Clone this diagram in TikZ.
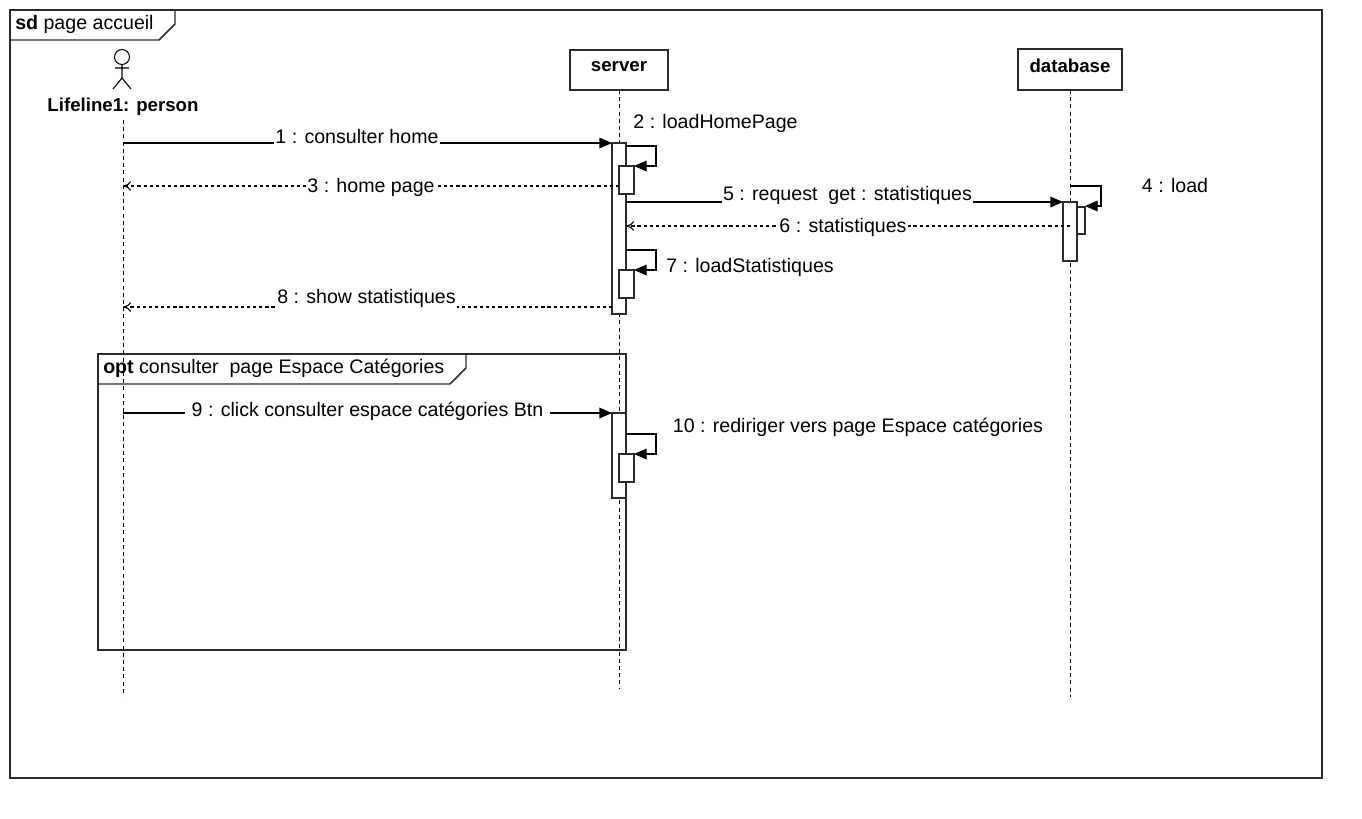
\documentclass[tikz,border=0pt]{standalone}
\usepackage{fontspec}
\setmainfont{Liberation Sans}
\usetikzlibrary{arrows.meta}
\definecolor{ink}{HTML}{2B2B2B}
\tikzset{
  x=0.75pt,y=-0.75pt,
  every node/.style={text=black,font=\fontsize{14.7}{16}\selectfont,inner sep=0pt},
  frameline/.style={draw=ink,line width=1.1pt},
  boxhead/.style={draw=ink,line width=1.1pt,fill=white,inner sep=0pt,outer sep=0pt,font=\fontsize{14}{16}\selectfont\bfseries},
  lifeline/.style={draw=black,line width=0.75pt,dash pattern=on 3pt off 2.4pt},
  bar/.style={draw=ink,line width=0.9pt,fill=white,inner sep=0pt,outer sep=0pt},
  msg/.style={draw=black,line width=1pt,-{Triangle[length=9.5pt,width=8pt]}},
  ret/.style={draw=black,line width=0.8pt,dash pattern=on 2.4pt off 2.2pt,-{To[length=6pt,width=7pt]}},
  lab/.style={fill=white,inner xsep=1pt,inner ysep=1pt,text height=10.5pt,text depth=3.5pt},
}
\newcommand{\barnode}[5]{\node[bar,minimum width=#4*0.75pt,minimum height=#5*0.75pt] (#1) at (#2,#3) {};}
\begin{document}
\begin{tikzpicture}
\useasboundingbox (0,0) rectangle (1362,818);
\fill[white] (0,0) rectangle (1362,818);
% outer frame
\draw[frameline] (10,10) rectangle (1322,778);
\draw[frameline] (10,10) -- (175,10) -- (175,24) -- (159,40) -- (10,40) -- cycle;
\node[anchor=west] (sdlabel) at (15,24) {\textbf{sd} page accueil};
% lifeline heads
\coordinate (p) at (123,120);
\node[boxhead,minimum width=73.5pt,minimum height=30pt] (server) at (619,70) {\raisebox{5.5pt}{server}};
\node[boxhead,minimum width=78pt,minimum height=30.75pt] (database) at (1070,69.5) {\raisebox{5.5pt}{database}};
\coordinate (pend) at (123,696);
\coordinate (send) at (619,688);
\coordinate (dend) at (1070,697);
\draw[lifeline] (p) -- (pend);
\draw[lifeline] (server.south) -- (send);
\draw[lifeline] (database.south) -- (dend);
% actor
\draw[black,line width=0.8pt] (122,57) circle[radius=7.5];
\draw[black,line width=0.8pt] (122,64.5) -- (122,78) (115,68) -- (129,68) (113,89) -- (122,78) -- (131,89);
\node[font=\fontsize{14}{16}\selectfont\bfseries] (person) at (123,107) {Lifeline1: person};
% opt frame
\draw[frameline] (98,354) rectangle (626,650);
\draw[frameline] (98,354) -- (466,354) -- (466,368) -- (450,384) -- (98,384) -- cycle;
\node[anchor=west] (optlabel) at (103,368.5) {\textbf{opt} consulter\ \ page Espace Catégories};
% activations
\barnode{a}{619}{228.5}{14}{171}
\barnode{ab}{626.5}{180}{15}{28}
\barnode{ac}{626.5}{284}{15}{28}
\barnode{e}{619}{455.5}{14}{85}
\barnode{eb}{626.5}{468}{15}{28}
\barnode{db}{1077.5}{220.5}{15}{27}
\barnode{d}{1070}{231.5}{14}{59}
% anchor points of the messages
\coordinate (m1s) at (123,143);
\coordinate (m1e) at (612,143);
\coordinate (m3s) at (619,186);
\coordinate (m3e) at (123,186);
\coordinate (m5s) at (626,202);
\coordinate (m5e) at (1063,202);
\coordinate (m6s) at (1070,226);
\coordinate (m6e) at (626,226);
\coordinate (m8s) at (612,307);
\coordinate (m8e) at (123,307);
\coordinate (m9s) at (123,413);
\coordinate (m9e) at (612,413);
% messages
\draw[msg] (m1s) -- (m1e);
\draw[ret] (m3s) -- (m3e);
\draw[msg] (m5s) -- (m5e);
\draw[ret] (m6s) -- (m6e);
\draw[ret] (m8s) -- (m8e);
\draw[msg] (m9s) -- (m9e);
% self messages
\draw[msg] (626,146) -- (656,146) -- (656,166) -- (634,166);
\draw[msg] (626,250) -- (656,250) -- (656,270) -- (634,270);
\draw[msg] (626,434) -- (656,434) -- (656,454) -- (634,454);
\draw[msg] (1071,186) -- (1101,186) -- (1101,206) -- (1085,206);
% labels
\node[lab] (l1) at (357,139) {1 : consulter home};
\node[lab] (l2) at (715.5,124) {2 : loadHomePage};
\node[lab] (l3) at (371,188) {3 : home page};
\node[lab] (l4) at (1175,188) {4 : load};
\node[lab] (l5) at (847.5,196) {5 : request\ \ get : statistiques};
\node[lab] (l6) at (843,228) {6 : statistiques};
\node[lab] (l7) at (750,268) {7 : loadStatistiques};
\node[lab] (l8) at (366.5,299) {8 : show statistiques};
\node[lab,inner xsep=5pt] (l9) at (367.5,412) {9 : click consulter espace catégories Btn};
\node[lab] (l10) at (858,428) {10 : rediriger vers page Espace catégories};
\end{tikzpicture}
\end{document}
